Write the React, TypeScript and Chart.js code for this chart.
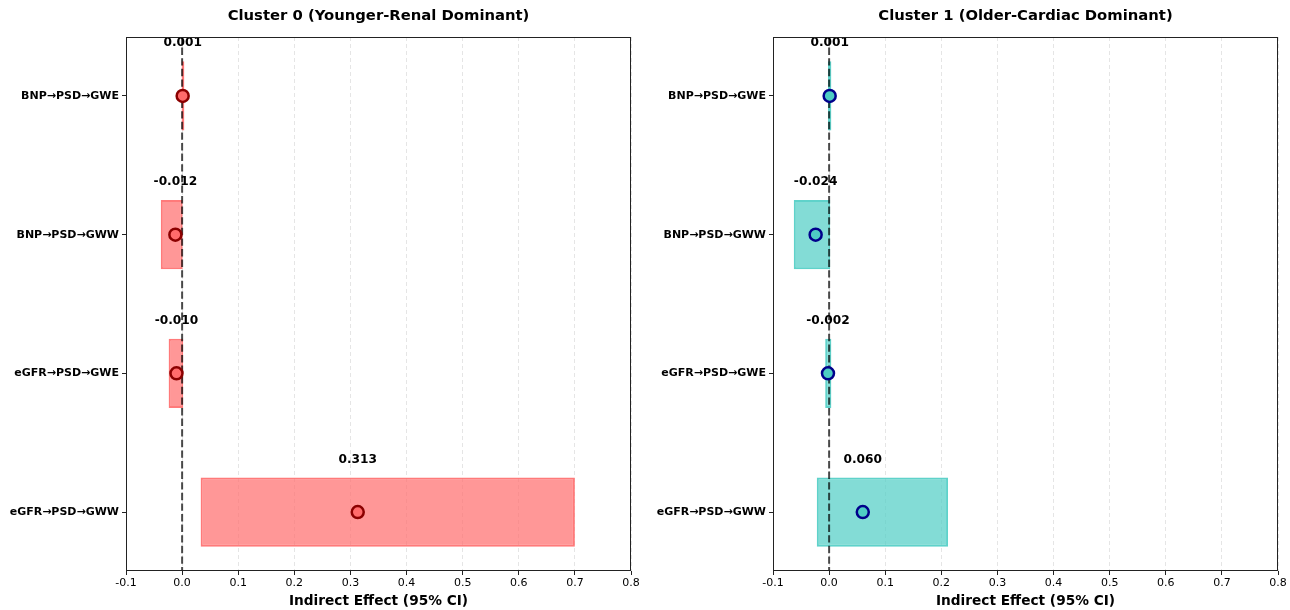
import React, { useEffect, useRef } from 'react';
import { Chart, registerables } from 'chart.js';

Chart.register(...registerables);
Chart.defaults.font.family = "'DejaVu Sans', sans-serif";

// ---------- data ----------
const categories = ['BNP→PSD→GWE', 'BNP→PSD→GWW', 'eGFR→PSD→GWE', 'eGFR→PSD→GWW'];
const xTickValues = [-0.1, 0.0, 0.1, 0.2, 0.3, 0.4, 0.5, 0.6, 0.7, 0.8];

const cluster0Title = 'Cluster 0 (Younger-Renal Dominant)';
const cluster0Estimate = [0.001, -0.012, -0.010, 0.313];
const cluster0Lower = [-0.001, -0.038, -0.024, 0.033];
const cluster0Upper = [0.004, 0.001, 0.002, 0.700];

const cluster1Title = 'Cluster 1 (Older-Cardiac Dominant)';
const cluster1Estimate = [0.001, -0.024, -0.002, 0.060];
const cluster1Lower = [-0.002, -0.063, -0.007, -0.022];
const cluster1Upper = [0.004, 0.002, 0.004, 0.212];

const xAxisTitle = 'Indirect Effect (95% CI)';

// ---------- component ----------
type Props = {
  title: string;
  est: number[];
  lo: number[];
  hi: number[];
  fill: string;
  edge: string;
  pointFill: string;
  pointEdge: string;
  yWidth: number;
  padRight: number;
  left: number;
};

function ClusterChart(p: Props) {
  const ref = useRef<HTMLCanvasElement | null>(null);
  useEffect(() => {
    if (!ref.current) return;
    const yMin = -0.425;
    const yMax = 3.425;

    const framePlugin = {
      id: 'frame',
      afterDraw(chart: any) {
        const { ctx, chartArea } = chart;
        ctx.save();
        ctx.strokeStyle = '#222';
        ctx.lineWidth = 1;
        const l = Math.round(chartArea.left) + 0.5;
        const t = Math.round(chartArea.top) + 0.5;
        const r = Math.round(chartArea.right) - 0.5;
        const b = Math.round(chartArea.bottom) - 0.5;
        ctx.strokeRect(l, t, r - l, b - t);
        ctx.restore();
      },
    };

    const labelPlugin = {
      id: 'valueLabels',
      afterDatasetsDraw(chart: any) {
        const { ctx } = chart;
        const xs = chart.scales.x;
        const ys = chart.scales.y;
        ctx.save();
        ctx.font = "bold 12.2px 'DejaVu Sans', sans-serif";
        ctx.fillStyle = '#000';
        ctx.textAlign = 'center';
        ctx.textBaseline = 'middle';
        p.est.forEach((v, i) => {
          const x = xs.getPixelForValue(v);
          const y = ys.getPixelForValue(i - 0.38);
          ctx.fillText(v.toFixed(3), x, y);
        });
        ctx.restore();
      },
    };

    const chart = new Chart(ref.current, {
      type: 'bar',
      data: {
        datasets: [
          {
            type: 'bar',
            data: categories.map((_, i) => ({ x: [p.lo[i], p.hi[i]], y: i })) as any,
            backgroundColor: p.fill,
            borderColor: p.edge,
            borderWidth: 2,
            borderSkipped: false,
            barPercentage: 1,
            categoryPercentage: 0.5,
            order: 3,
          } as any,
          {
            type: 'line',
            data: [
              { x: 0, y: yMin },
              { x: 0, y: yMax },
            ],
            borderColor: 'rgba(0,0,0,0.7)',
            borderWidth: 2,
            borderDash: [7.4, 3.2],
            pointRadius: 0,
            fill: false,
            order: 2,
          } as any,
          {
            type: 'scatter',
            data: categories.map((_, i) => ({ x: p.est[i], y: i })),
            backgroundColor: p.pointFill,
            borderColor: p.pointEdge,
            borderWidth: 2.5,
            pointRadius: 6,
            order: 1,
          } as any,
        ],
      },
      options: {
        indexAxis: 'y',
        animation: false,
        responsive: false,
        layout: { padding: { left: 0, right: p.padRight, top: 0, bottom: 0 } },
        plugins: {
          legend: { display: false },
          tooltip: { enabled: false },
          title: {
            display: true,
            text: p.title,
            fullSize: false,
            color: '#000',
            font: { size: 14.8, weight: 'bold' },
            padding: { top: 7, bottom: 12.24 },
          },
        },
        scales: {
          x: {
            type: 'linear',
            min: -0.1,
            max: 0.8,
            offset: false,
            afterBuildTicks: (s: any) => {
              s.ticks = xTickValues.map((v) => ({ value: v }));
            },
            afterFit: (s: any) => {
              s.height = 39;
            },
            ticks: {
              color: '#000',
              font: { size: 11 },
              padding: 2,
              maxRotation: 0,
              autoSkip: false,
              callback: (v: any) => Number(v).toFixed(1),
            },
            grid: {
              display: true,
              drawOnChartArea: true,
              color: 'rgba(0,0,0,0.1)',
              lineWidth: 1,
              drawTicks: true,
              tickLength: 4,
              tickColor: '#222',
              tickWidth: 1,
              tickBorderDash: [],
              offset: false,
            },
            border: { display: false, dash: [4, 3] },
            title: {
              display: true,
              text: xAxisTitle,
              color: '#000',
              font: { size: 13.7, weight: 'bold' },
              padding: { top: 2, bottom: 0 },
            },
          },
          y: {
            type: 'linear',
            min: yMin,
            max: yMax,
            reverse: true,
            offset: false,
            afterBuildTicks: (s: any) => {
              s.ticks = categories.map((_, i) => ({ value: i }));
            },
            afterFit: (s: any) => {
              s.width = p.yWidth;
            },
            ticks: {
              color: '#000',
              font: { size: 11, weight: 'bold' },
              padding: 3,
              autoSkip: false,
              callback: (v: any) => categories[Math.round(Number(v))] ?? '',
            },
            grid: {
              display: true,
              drawOnChartArea: false,
              drawTicks: true,
              tickLength: 4,
              tickColor: '#222',
              offset: false,
            },
            border: { display: false },
          },
        },
      } as any,
      plugins: [framePlugin, labelPlugin],
    });
    return () => chart.destroy();
  }, []);
  return (
    <div style={{ position: 'absolute', left: p.left, top: 0, width: 645, height: 610 }}>
      <canvas ref={ref} width={645} height={610} style={{ width: 645, height: 610 }} />
    </div>
  );
}

export default function App() {
  return (
    <div style={{ position: 'fixed', left: 0, top: 0, width: 1290, height: 610, background: '#fff' }}>
      <ClusterChart
        title={cluster0Title}
        est={cluster0Estimate}
        lo={cluster0Lower}
        hi={cluster0Upper}
        fill="rgba(255,107,107,0.7)"
        edge="rgba(255,107,107,0.9)"
        pointFill="#FF6B6B"
        pointEdge="#8B0000"
        yWidth={126}
        padRight={14}
        left={0}
      />
      <ClusterChart
        title={cluster1Title}
        est={cluster1Estimate}
        lo={cluster1Lower}
        hi={cluster1Upper}
        fill="rgba(78,205,196,0.7)"
        edge="rgba(78,205,196,0.9)"
        pointFill="#4ECDC4"
        pointEdge="#00008B"
        yWidth={128}
        padRight={12}
        left={645}
      />
    </div>
  );
}
